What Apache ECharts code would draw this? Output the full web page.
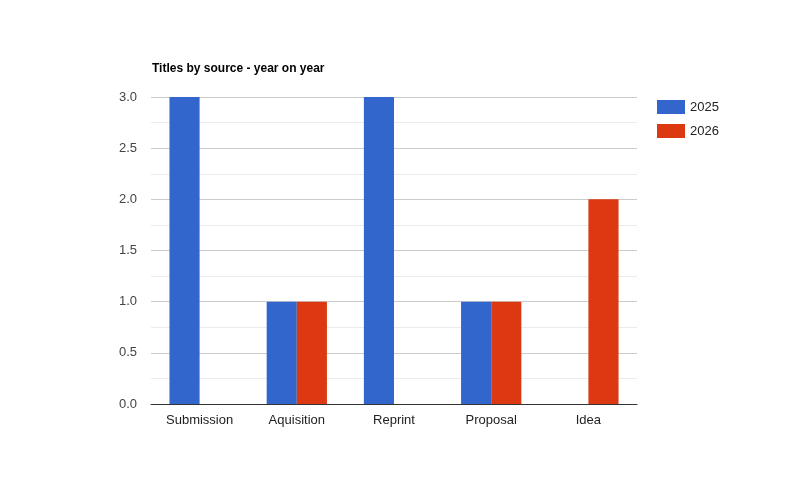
<!DOCTYPE html>
<html><head><meta charset="utf-8">
<script src="https://cdn.jsdelivr.net/npm/echarts@6/dist/echarts.min.js"></script>
<style>html,body{margin:0;padding:0;background:#fff}#c{width:788px;height:500px}</style>
</head><body><div id="c"></div>
<script>
const categories = ['Submission','Aquisition','Reprint','Proposal','Idea'];
const s2025 = [3,1,3,1,0];
const s2026 = [0,1,0,1,2];
const chart = echarts.init(document.getElementById('c'));
chart.setOption({
  animation:false,
  textStyle:{fontFamily:'Liberation Sans, Arial, sans-serif'},
  title:{text:'Titles by source - year on year',left:147,top:58,textStyle:{fontSize:12,fontWeight:'bold',color:'#000'}},
  legend:{orient:'vertical',left:652,top:95,itemWidth:28,itemHeight:14,itemGap:10,icon:'rect',
    textStyle:{fontSize:13,color:'#222'},data:['2025','2026']},
  grid:{left:151,right:151,top:97,bottom:96,containLabel:false},
  xAxis:{type:'category',data:categories,axisTick:{show:false},
    axisLine:{lineStyle:{color:'#333'}},axisLabel:{fontSize:13,color:'#222',margin:10}},
  yAxis:{type:'value',min:0,max:3,interval:0.5,
    axisLabel:{fontSize:13,color:'#444',margin:14,formatter:v=>v.toFixed(1)},
    splitLine:{lineStyle:{color:'#ccc'}},
    minorTick:{show:false,splitNumber:2},
    minorSplitLine:{show:true,lineStyle:{color:'#ebebeb'}}},
  series:[
    {name:'2025',type:'bar',data:s2025,barWidth:'31%',barGap:'0%',itemStyle:{color:'#3366cc'}},
    {name:'2026',type:'bar',data:s2026,barWidth:'31%',itemStyle:{color:'#dc3912'}}
  ]
});
</script></body></html>
